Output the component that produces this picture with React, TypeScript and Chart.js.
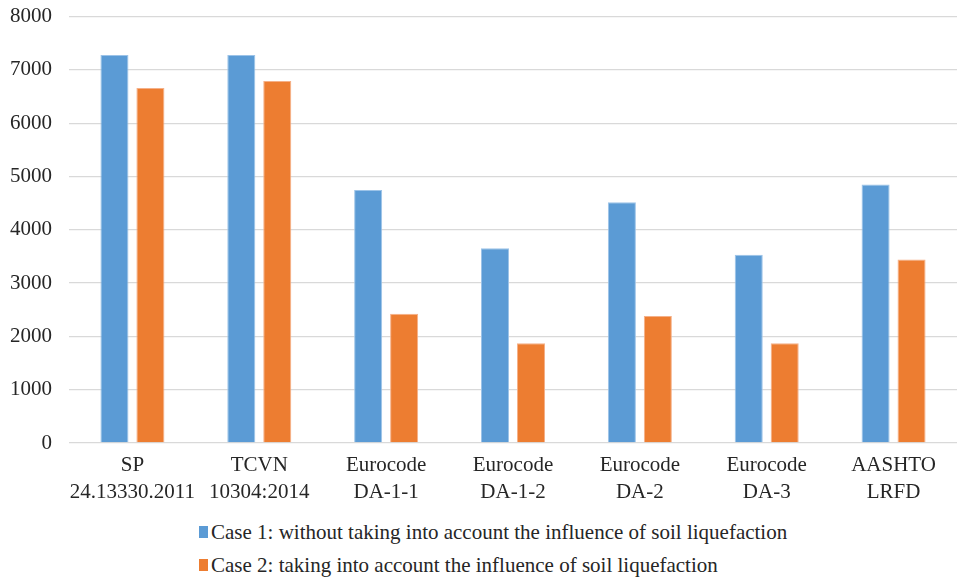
import React, { useEffect, useRef } from "react";
import { Chart, registerables } from "chart.js";

Chart.register(...registerables);

const categories: string[][] = [
  ["SP", "24.13330.2011"],
  ["TCVN", "10304:2014"],
  ["Eurocode", "DA-1-1"],
  ["Eurocode", "DA-1-2"],
  ["Eurocode", "DA-2"],
  ["Eurocode", "DA-3"],
  ["AASHTO", "LRFD"],
];
const case1Label = "Case 1: without taking into account the influence of soil liquefaction";
const case2Label = "Case 2: taking into account the influence of soil liquefaction";
const case1Values = [7280, 7280, 4745, 3655, 4515, 3530, 4850];
const case2Values = [6660, 6790, 2425, 1870, 2385, 1870, 3445];
const yTicks = [0, 1000, 2000, 3000, 4000, 5000, 6000, 7000, 8000];

const BLUE = "#5B9BD5";
const ORANGE = "#ED7D31";
const TEXT = "#262626";
const FONT = "'Liberation Serif', 'Times New Roman', serif";

export default function App() {
  const ref = useRef<HTMLCanvasElement | null>(null);

  useEffect(() => {
    document.body.style.margin = "0";
    const ctx = ref.current;
    if (!ctx) return;
    const chart = new Chart(ctx, {
      type: "bar",
      data: {
        labels: categories,
        datasets: [
          {
            label: case1Label,
            data: case1Values,
            backgroundColor: BLUE,
            borderColor: "#9cc3e8",
            borderWidth: 1,
            categoryPercentage: 0.567,
            barPercentage: 0.78,
          },
          {
            label: case2Label,
            data: case2Values,
            backgroundColor: ORANGE,
            borderColor: "#f5b088",
            borderWidth: 1,
            categoryPercentage: 0.567,
            barPercentage: 0.78,
          },
        ],
      },
      options: {
        animation: false,
        responsive: false,
        maintainAspectRatio: false,
        layout: { padding: { top: 0, right: 0, bottom: 0, left: 0 } },
        plugins: {
          legend: { display: false },
          tooltip: { enabled: false },
        },
        scales: {
          x: {
            grid: { display: false, drawTicks: false },
            border: { display: false },
            ticks: {
              color: TEXT,
              font: { family: FONT, size: 21, lineHeight: 1.3 },
              padding: 9,
              maxRotation: 0,
              autoSkip: false,
            },
            afterFit: (scale: any) => {
              scale.height = 67;
            },
          },
          y: {
            min: 0,
            max: 8000,
            afterBuildTicks: (scale: any) => {
              scale.ticks = yTicks.map((v) => ({ value: v }));
            },
            grid: { color: "#d9d9d9", lineWidth: 1.3, drawTicks: false },
            border: { display: false },
            ticks: {
              color: TEXT,
              font: { family: FONT, size: 21 },
              padding: 17,
              callback: (v: any) => String(v),
            },
            afterFit: (scale: any) => {
              scale.width = 69;
            },
          },
        },
      },
    });
    return () => chart.destroy();
  }, []);

  const rowStyle: React.CSSProperties = {
    position: "absolute",
    left: 199,
    display: "flex",
    alignItems: "center",
    fontFamily: FONT,
    fontSize: 21,
    lineHeight: "24px",
    color: TEXT,
    whiteSpace: "nowrap",
  };
  const marker = (c: string): React.CSSProperties => ({
    width: 9,
    height: 12,
    background: c,
    marginRight: 3,
  });

  return (
    <div style={{ position: "relative", width: 957, height: 578, background: "#fff", overflow: "hidden" }}>
      <canvas ref={ref} width={957} height={523} style={{ position: "absolute", left: 0, top: -13 }} />
      <div style={{ ...rowStyle, top: 520 }}>
        <span style={marker(BLUE)} />
        <span>{case1Label}</span>
      </div>
      <div style={{ ...rowStyle, top: 553 }}>
        <span style={marker(ORANGE)} />
        <span>{case2Label}</span>
      </div>
    </div>
  );
}
